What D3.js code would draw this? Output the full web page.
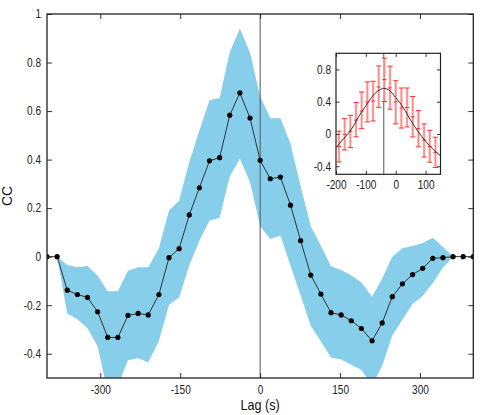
<!DOCTYPE html>
<html><head><meta charset="utf-8">
<script src="https://cdn.jsdelivr.net/npm/d3@7"></script>
<style>body{margin:0;background:#fff}svg{display:block}</style></head><body>
<svg id="c" width="491" height="415"></svg>
<script>
const lags = [-400,-381,-362,-343,-324,-305,-286,-267,-248,-229,-210,-190,-171,-152,-133,-114,-95,-76,-57,-38,-19,0,19,38,57,76,95,114,133,152,171,190,210,229,248,267,286,305,324,343,362,381,400];
const cc = [0,0,-0.138,-0.156,-0.168,-0.227,-0.333,-0.333,-0.242,-0.234,-0.240,-0.156,-0.004,0.033,0.172,0.284,0.395,0.408,0.583,0.675,0.571,0.397,0.321,0.328,0.212,0.066,-0.076,-0.154,-0.231,-0.240,-0.264,-0.296,-0.347,-0.273,-0.165,-0.112,-0.074,-0.048,-0.007,-0.004,0,0,0];
const ccUpper = [0,0,-0.034,-0.044,-0.038,-0.079,-0.143,-0.143,-0.058,-0.044,-0.044,0.035,0.19,0.231,0.39,0.52,0.645,0.654,0.843,0.94,0.84,0.66,0.57,0.57,0.465,0.29,0.125,0.045,-0.04,-0.055,-0.078,-0.106,-0.165,-0.09,0.0,0.035,0.044,0.056,0.078,0.04,0,0,0];
const ccLower = [0,0,-0.234,-0.258,-0.295,-0.37,-0.56,-0.53,-0.427,-0.419,-0.435,-0.347,-0.198,-0.168,-0.035,0.066,0.149,0.16,0.33,0.403,0.307,0.125,0.073,0.087,-0.037,-0.16,-0.285,-0.35,-0.416,-0.424,-0.445,-0.467,-0.53,-0.45,-0.325,-0.26,-0.195,-0.162,-0.108,-0.045,0,0,0];
const xTicks = [-300,-150,0,150,300];
const yTicks = [-0.4,-0.2,0,0.2,0.4,0.6,0.8,1];
const insetFirst = 11, insetLast = 28;
const fitLag = [-200,-175,-150,-125,-100,-75,-50,-40,-25,0,25,50,75,100,125,150];
const fitCC  = [-0.17,-0.06,0.05,0.21,0.35,0.48,0.555,0.565,0.55,0.45,0.33,0.17,0.03,-0.09,-0.19,-0.27];
const fitCenter = -40;
const insetXTicks = [-200,-100,0,100];
const insetYTicks = [-0.4,0,0.4,0.8];

const svg = d3.select("#c");
const FONT = "'Liberation Sans',Arial,sans-serif";
const SX = 0.84;
const L=47, R=473.3, T=14, B=378;
const x = d3.scaleLinear().domain([-400,400]).range([L,R]);
const y = d3.scaleLinear().domain([-0.5,1]).range([B,T]);

svg.append("clipPath").attr("id","clipMain").append("rect")
  .attr("x",L).attr("y",T).attr("width",R-L).attr("height",B-T);

const data = lags.map((l,i)=>({l, v:cc[i], u:ccUpper[i], lo:ccLower[i]}));
const gPlot = svg.append("g").attr("clip-path","url(#clipMain)");
gPlot.append("path").datum(data)
  .attr("d", d3.area().x(d=>x(d.l)).y0(d=>y(d.lo)).y1(d=>y(d.u)))
  .attr("fill","#87ceeb");
gPlot.append("line").attr("x1",x(0)).attr("x2",x(0)).attr("y1",T).attr("y2",B)
  .attr("stroke","#555").attr("stroke-width",1);
gPlot.append("path").datum(data)
  .attr("d", d3.line().x(d=>x(d.l)).y(d=>y(d.v)))
  .attr("fill","none").attr("stroke","#333").attr("stroke-width",1);
gPlot.selectAll("circle").data(data).join("circle")
  .attr("cx",d=>x(d.l)).attr("cy",d=>y(d.v)).attr("r",2.6).attr("fill","#000");

function styleAxis(g){
  g.select(".domain").remove();
  g.selectAll("line").attr("stroke","#333").attr("stroke-width",1);
  g.selectAll("text").attr("font-family",FONT).attr("font-size",12).attr("fill","#222")
    .each(function(){
      const t = d3.select(this);
      const tx = +t.attr("x") || 0;
      t.attr("x", tx/SX).attr("transform",`scale(${SX},1)`);
    });
}
const fmt = d=>String(d);
svg.append("g").attr("transform",`translate(0,${B})`)
  .call(d3.axisBottom(x).tickValues(xTicks).tickFormat(fmt).tickSize(-5).tickPadding(7)).call(styleAxis);
svg.append("g").attr("transform",`translate(0,${T})`)
  .call(d3.axisTop(x).tickValues(xTicks).tickFormat("").tickSize(-5)).call(styleAxis);
svg.append("g").attr("transform",`translate(${L},0)`)
  .call(d3.axisLeft(y).tickValues(yTicks).tickFormat(fmt).tickSize(-5).tickPadding(6)).call(styleAxis);
svg.append("g").attr("transform",`translate(${R},0)`)
  .call(d3.axisRight(y).tickValues(yTicks).tickFormat("").tickSize(-5)).call(styleAxis);
svg.append("rect").attr("x",L).attr("y",T).attr("width",R-L).attr("height",B-T)
  .attr("fill","none").attr("stroke","#222").attr("stroke-width",1.3);

svg.append("text").attr("transform",`translate(${(L+R)/2},410) scale(0.9,1)`).attr("text-anchor","middle")
  .attr("font-family",FONT).attr("font-size",14).attr("fill","#111").text("Lag (s)");
svg.append("text").attr("transform",`translate(12,${(T+B)/2}) rotate(-90)`).attr("text-anchor","middle")
  .attr("font-family",FONT).attr("font-size",14).attr("fill","#111").text("CC");

// inset
const iL=336, iR=440.5, iT=53.3, iB=174.3;
const xi = d3.scaleLinear().domain([-200,150]).range([iL,iR]);
const yi = d3.scaleLinear().domain([-0.5,1]).range([iB,iT]);
const gi = svg.append("g");
gi.append("rect").attr("x",iL).attr("y",iT).attr("width",iR-iL).attr("height",iB-iT).attr("fill","#fff");
svg.append("clipPath").attr("id","clipInset").append("rect")
  .attr("x",iL).attr("y",iT).attr("width",iR-iL).attr("height",iB-iT);
const gic = gi.append("g").attr("clip-path","url(#clipInset)");
const sub = data.slice(insetFirst, insetLast+1);
gic.append("line").attr("x1",xi(fitCenter)).attr("x2",xi(fitCenter)).attr("y1",iT).attr("y2",iB)
  .attr("stroke","#555").attr("stroke-width",1);
const bars = gic.selectAll("g.bar").data(sub).join("g").attr("class","bar");
bars.append("line").attr("x1",d=>xi(d.l)).attr("x2",d=>xi(d.l)).attr("y1",d=>yi(d.lo)).attr("y2",d=>yi(d.u))
  .attr("stroke","#ffb0b0").attr("stroke-width",2.4);
bars.append("line").attr("x1",d=>xi(d.l)).attr("x2",d=>xi(d.l)).attr("y1",d=>yi(d.lo)).attr("y2",d=>yi(d.u))
  .attr("stroke","#ff6060").attr("stroke-width",0.6);
[d=>yi(d.lo), d=>yi(d.u), d=>yi(d.v)].forEach((fy,k)=>{
  bars.append("line").attr("x1",d=>xi(d.l)-(k<2?2.6:2)).attr("x2",d=>xi(d.l)+(k<2?2.6:2))
    .attr("y1",fy).attr("y2",fy).attr("stroke","#ff3030").attr("stroke-width",1);
});
gic.append("path").datum(fitLag.map((l,i)=>[l,fitCC[i]]))
  .attr("d", d3.line().x(d=>xi(d[0])).y(d=>yi(d[1])).curve(d3.curveMonotoneX))
  .attr("fill","none").attr("stroke","#333").attr("stroke-width",1);

svg.append("g").attr("transform",`translate(0,${iB})`)
  .call(d3.axisBottom(xi).tickValues(insetXTicks).tickFormat(fmt).tickSize(-3.5).tickPadding(6)).call(styleAxis);
svg.append("g").attr("transform",`translate(0,${iT})`)
  .call(d3.axisTop(xi).tickValues(insetXTicks).tickFormat("").tickSize(-3.5)).call(styleAxis);
svg.append("g").attr("transform",`translate(${iL},0)`)
  .call(d3.axisLeft(yi).tickValues(insetYTicks).tickFormat(fmt).tickSize(-3.5).tickPadding(5)).call(styleAxis);
svg.append("g").attr("transform",`translate(${iR},0)`)
  .call(d3.axisRight(yi).tickValues(insetYTicks).tickFormat("").tickSize(-3.5)).call(styleAxis);
svg.append("rect").attr("x",iL).attr("y",iT).attr("width",iR-iL).attr("height",iB-iT)
  .attr("fill","none").attr("stroke","#222").attr("stroke-width",1.2);
</script></body></html>
